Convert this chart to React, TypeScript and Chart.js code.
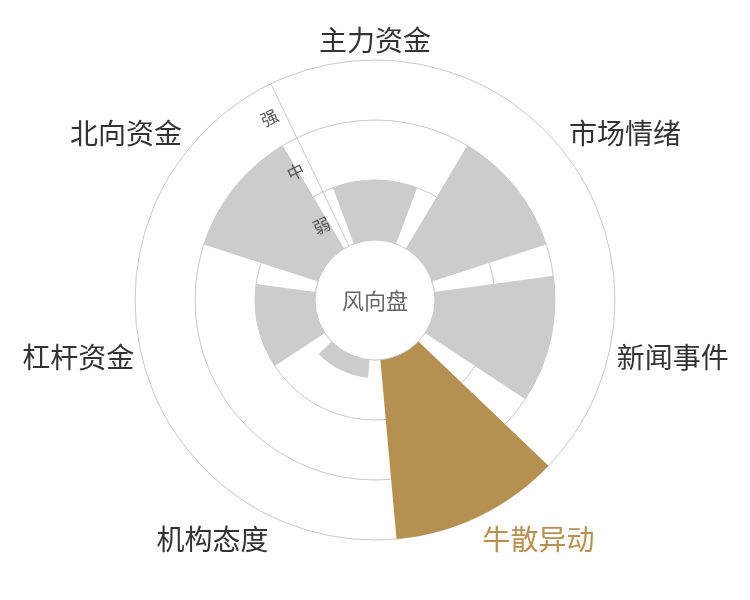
import React, { useEffect, useRef } from "react";
import { Chart, registerables } from "chart.js";

Chart.register(...registerables);

const categories = ["主力资金", "市场情绪", "新闻事件", "牛散异动", "机构态度", "杠杆资金", "北向资金"];
const values = [1, 2, 2, 3, 0.3, 1, 2];
const levelLabels = ["弱", "中", "强"];
const highlightIndex = 3;
const centerTitle = "风向盘";

const GREY = "#cccccc";
const GOLD = "#b69051";
const LINE = "#c8c8c8";
const FONT = '"Noto Sans CJK SC", "Noto Sans", sans-serif';

const SECTOR = 360 / categories.length;
const BAR_DEG = SECTOR * 0.8;
const HALF_GAP = (SECTOR - BAR_DEG) / 2;

// each category: half gap, bar, half gap
const chartLabels: string[] = [];
const chartData: number[] = [];
categories.forEach((c, i) => {
  chartLabels.push("", c, "");
  chartData.push(-1, values[i], -1);
});

const overlayPlugin = {
  id: "overlay",
  afterDatasetsDraw(chart: any) {
    const ctx = chart.ctx;
    const scale = chart.scales.r;
    const cx = scale.xCenter;
    const cy = scale.yCenter;
    const holeR = scale.getDistanceFromCenterForValue(0);
    const outerR = scale.getDistanceFromCenterForValue(3);
    ctx.save();
    // hole
    ctx.beginPath();
    ctx.arc(cx, cy, holeR, 0, Math.PI * 2);
    ctx.fillStyle = "#ffffff";
    ctx.fill();
    ctx.lineWidth = 1;
    ctx.strokeStyle = LINE;
    ctx.stroke();
    // centre text
    ctx.font = `22px ${FONT}`;
    ctx.fillStyle = "#666666";
    ctx.textAlign = "center";
    ctx.textBaseline = "middle";
    ctx.fillText(centerTitle, cx, cy + 1);

    // radius labels along the axis line
    const a = scale.getIndexAngle(0) - Math.PI / 2;
    const nx = Math.sin(a);
    const ny = -Math.cos(a);
    ctx.font = `17px ${FONT}`;
    ctx.fillStyle = "#555555";
    levelLabels.forEach((lab, i) => {
      const r = scale.getDistanceFromCenterForValue(i + 0.5);
      const x = cx + Math.cos(a) * r + nx * 16;
      const y = cy + Math.sin(a) * r + ny * 16;
      ctx.save();
      ctx.translate(x, y);
      ctx.rotate(a + Math.PI / 2);
      ctx.textAlign = "center";
      ctx.textBaseline = "middle";
      ctx.fillText(lab, 0, 0);
      ctx.restore();
    });

    // category labels
    const meta = chart.getDatasetMeta(0);
    ctx.font = `28px ${FONT}`;
    categories.forEach((c, k) => {
      const arc = meta.data[k * 3 + 1];
      const mid = (arc.startAngle + arc.endAngle) / 2;
      const cos = Math.cos(mid);
      const sin = Math.sin(mid);
      const R = outerR + 8;
      const x = cx + cos * R;
      const y = cy + sin * R;
      ctx.textAlign = cos > 0.05 ? "left" : cos < -0.05 ? "right" : "center";
      const base = sin < -0.3 ? "bottom" : sin > 0.3 ? "top" : "middle";
      ctx.textBaseline = base;
      ctx.fillStyle = k === highlightIndex ? GOLD : "#333333";
      ctx.fillText(c, x + (cos < -0.05 ? 1 : 0), y + 2);
    });
    ctx.restore();
  },
};

export default function App() {
  const canvasRef = useRef<HTMLCanvasElement | null>(null);
  useEffect(() => {
    if (!canvasRef.current) return;
    const chart = new Chart(canvasRef.current, {
      type: "polarArea",
      data: {
        labels: chartLabels,
        datasets: [
          {
            data: chartData,
            backgroundColor: (ctx: any) => {
              const i = ctx.dataIndex;
              if (i % 3 !== 1) return "rgba(0,0,0,0)";
              return Math.floor(i / 3) === highlightIndex ? GOLD : GREY;
            },
            borderWidth: 0,
            angle: (ctx: any) => (ctx.dataIndex % 3 === 1 ? BAR_DEG : HALF_GAP),
          } as any,
        ],
      },
      options: {
        animation: false,
        responsive: false,
        layout: { padding: { left: 135, right: 135, top: 60, bottom: 60 } },
        plugins: { legend: { display: false }, tooltip: { enabled: false } },
        scales: {
          r: {
            startAngle: -SECTOR / 2,
            min: -1,
            max: 3,
            ticks: { display: false, stepSize: 1 },
            grid: { circular: true, color: LINE, lineWidth: 1 },
            angleLines: {
              display: true,
              color: LINE,
              lineWidth: (c: any) => (c.index === 0 ? 1 : 0),
            },
            pointLabels: { display: false },
          },
        },
      } as any,
      plugins: [overlayPlugin],
    });
    return () => chart.destroy();
  }, []);
  return (
    <div style={{ position: "fixed", left: 0, top: 0, width: 750, height: 600, background: "#fff" }}>
      <canvas ref={canvasRef} width={750} height={600} style={{ width: 750, height: 600, display: "block" }} />
    </div>
  );
}
